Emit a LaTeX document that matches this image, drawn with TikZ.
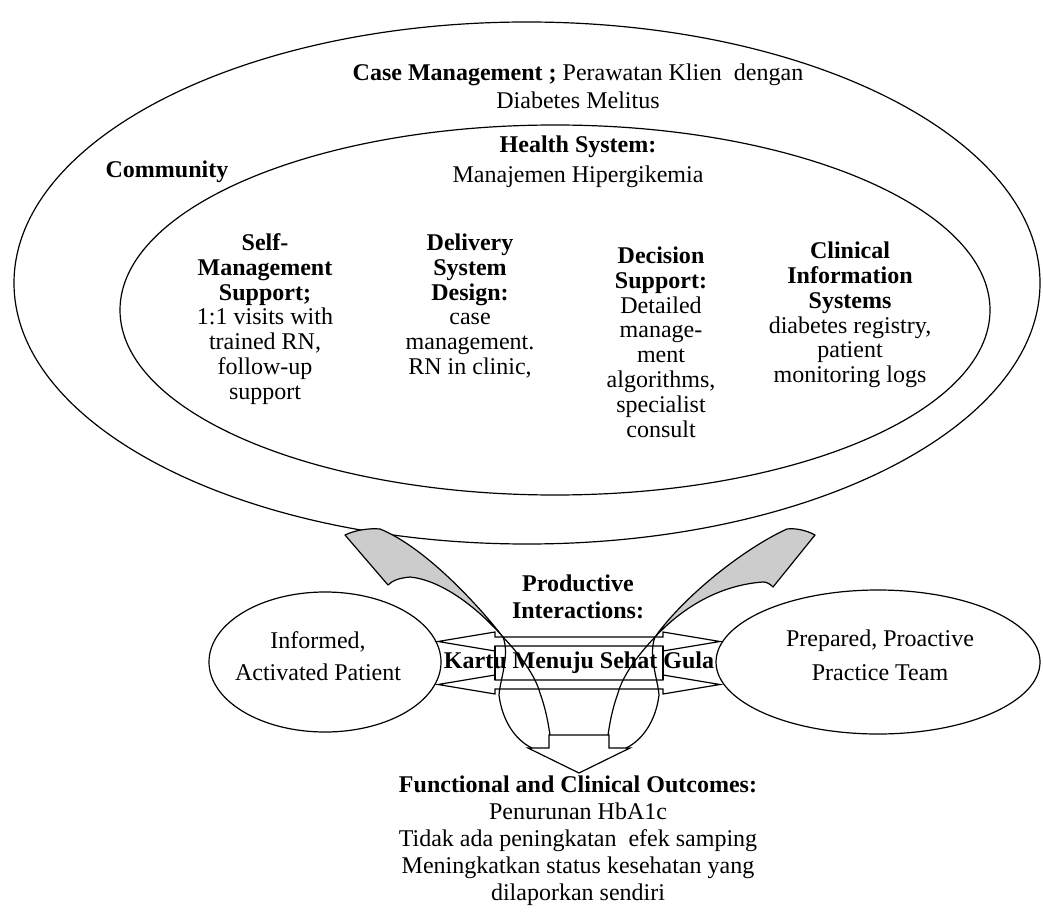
\documentclass[tikz,border=0pt]{standalone}
\usepackage{fontspec}
\setmainfont{Liberation Serif}
\usetikzlibrary{shapes.geometric}
\begin{document}
\begin{tikzpicture}[x=0.5pt,y=-0.5pt,
  ln/.style={line width=0.6pt, draw=black},
  txt/.style={align=center, inner sep=0pt, text=black},
  t12/.style={txt, font=\fontsize{12}{12.4}\selectfont},
  grayface/.style={ln, fill=gray!40, line join=round},
  band/.style={ln, line join=miter}]
\useasboundingbox (0,0) rectangle (1043,914);
% ellipses
\coordinate (community) at (527,283);
\coordinate (health) at (555,310);
\coordinate (patient) at (325,662);
\coordinate (team) at (878,662);
\draw[ln] (community) ellipse [x radius=513, y radius=261];
\draw[ln] (health) ellipse [x radius=435, y radius=185];
\draw[ln] (patient) ellipse [x radius=116, y radius=70];
\draw[ln] (team) ellipse [x radius=162, y radius=72];
% top texts
\node[txt, font=\fontsize{12}{14}\selectfont] (cm) at (578,86)
  {\textbf{Case Management ;} Perawatan Klien\ \ dengan\\Diabetes Melitus};
\node[txt, font=\fontsize{12}{15}\selectfont] (hs) at (578,162)
  {\textbf{Health System:}\\Manajemen Hipergikemia};
\node[txt, font=\fontsize{12}{14}\selectfont\bfseries] (comm) at (167,172) {Community};
% columns
\node[t12] (self) at (265,319) {\textbf{Self-}\\\textbf{Management}\\\textbf{Support;}\\1:1 visits with\\trained RN,\\follow-up\\support};
\node[t12] (deliv) at (470,306) {\textbf{Delivery}\\\textbf{System}\\\textbf{Design:}\\case\\management.\\RN in clinic,};
\node[t12] (decis) at (661,342) {\textbf{Decision}\\\textbf{Support:}\\Detailed\\manage-\\ment\\algorithms,\\specialist\\consult};
\node[t12] (clin) at (850,315) {\textbf{Clinical}\\\textbf{Information}\\\textbf{Systems}\\diabetes registry,\\patient\\monitoring logs};
% gray curved arrow faces
\path[grayface] (345,535) .. controls (355,530) and (370,528) .. (380,529)
   .. controls (420,545) and (470,595) .. (503,637)
   .. controls (475,605) and (440,580) .. (410,577)
   .. controls (400,578) and (393,580) .. (388,585) -- cycle;
\path[grayface] (815,535) .. controls (806,530) and (795,528) .. (787,529)
   .. controls (745,548) and (685,595) .. (655,637)
   .. controls (685,605) and (722,585) .. (763,582)
   .. controls (767,582) and (770,584) .. (773,587) -- cycle;
% continuing curves below
\draw[ln] (503,637) .. controls (510,655) and (500,680) .. (499,695)
   .. controls (502,720) and (515,740) .. (532,748);
\draw[ln] (503,637) .. controls (520,655) and (535,675) .. (540,693)
   .. controls (546,710) and (548,722) .. (550,735);
\draw[ln] (655,637) .. controls (648,655) and (658,680) .. (659,695)
   .. controls (656,720) and (643,740) .. (626,748);
\draw[ln] (655,637) .. controls (638,655) and (623,675) .. (618,693)
   .. controls (612,710) and (610,722) .. (608,735);
% horizontal double arrows
\path[band] (438,641.5) -- (495,632) -- (495,637) -- (663,637) -- (663,632) -- (720,641.5)
   -- (663,651) -- (663,646) -- (495,646) -- (495,651) -- cycle;
\path[band] (438,684.5) -- (495,675) -- (495,680) -- (663,680) -- (663,675) -- (720,684.5)
   -- (663,694) -- (663,689) -- (495,689) -- (495,694) -- cycle;
\draw[ln] (495,646) -- (495,680);
\draw[ln] (663,646) -- (663,680);
% down arrow
\path[band] (549,735) -- (609,735) -- (609,748) -- (630,748) -- (579,773) -- (528,748) -- (549,748) -- cycle;
% middle texts
\node[txt, font=\fontsize{12}{13.5}\selectfont\bfseries] (prod) at (578,597) {Productive\\Interactions:};
\node[txt, font=\fontsize{12}{14}\selectfont\bfseries] (kartu) at (579,663) {Kartu Menuju Sehat Gula};
\node[txt, font=\fontsize{12}{16}\selectfont] (ptxt) at (318,656) {Informed,\\Activated Patient};
\node[txt, font=\fontsize{12}{17}\selectfont] (ttxt) at (880,655) {Prepared, Proactive\\Practice Team};
% outcomes
\node[txt, font=\fontsize{12}{13.5}\selectfont] (out) at (578,841)
  {\textbf{Functional and Clinical Outcomes:}\\Penurunan HbA1c\\Tidak ada peningkatan\ \ efek samping\\Meningkatkan status kesehatan yang\\dilaporkan sendiri};
\end{tikzpicture}
\end{document}
